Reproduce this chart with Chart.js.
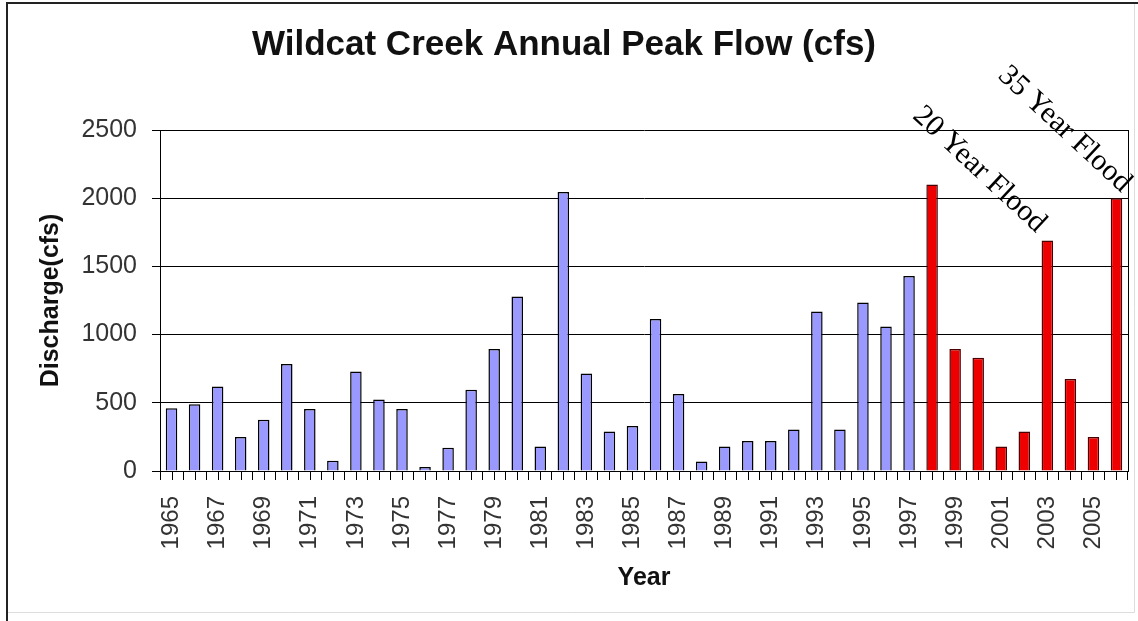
<!DOCTYPE html>
<html>
<head>
<meta charset="utf-8">
<script src="https://cdn.jsdelivr.net/npm/chart.js@4.4.0/dist/chart.umd.min.js"></script>
<style>
  html, body { margin:0; padding:0; background:#fff; }
  canvas { display:block; }
</style>
</head>
<body>
<canvas id="c" width="1138" height="621"></canvas>
<script>
// annual peak discharge, cfs
const years = [1965,1966,1967,1968,1969,1970,1971,1972,1973,1974,1975,1976,1977,1978,1979,1980,1981,
  1982,1983,1984,1985,1986,1987,1988,1989,1990,1991,1992,1993,1994,1995,1996,1997,
  1998,1999,2000,2001,2002,2003,2004,2005,2006];
const peakFlow = [460,490,620,250,375,785,455,75,730,525,455,30,170,595,895,1280,180,
  2045,715,290,330,1115,565,70,180,220,220,305,1170,305,1235,1060,1430,
  2100,895,830,180,290,1690,675,250,2000];
const yTicks = [0,500,1000,1500,2000,2500];
const recentFrom = 1998;            // bars from this year on are red
const floodYears = [2003, 2006];
const floodLabels = ['20 Year Flood', '35 Year Flood'];

const SANS = '"Liberation Sans", Arial, sans-serif';
const SERIF = '"Liberation Serif", "Times New Roman", serif';

const extras = {
  id:'extras',
  afterDraw(chart){
    const {ctx, chartArea:a, scales:{x, y}} = chart;
    ctx.save();
    // outer frame (left + top only are visible)
    ctx.strokeStyle = '#222'; ctx.lineWidth = 2;
    ctx.beginPath(); ctx.moveTo(7, 621); ctx.lineTo(7, 3); ctx.lineTo(1138, 3); ctx.stroke();
    ctx.strokeStyle = '#ddd'; ctx.lineWidth = 1;
    ctx.beginPath(); ctx.moveTo(8, 612.5); ctx.lineTo(1134.5, 612.5); ctx.lineTo(1134.5, 4); ctx.stroke();
    // right edge of plot area
    ctx.strokeStyle = '#000'; ctx.lineWidth = 1;
    ctx.beginPath(); ctx.moveTo(Math.round(a.right)+0.5, a.top); ctx.lineTo(Math.round(a.right)+0.5, a.bottom); ctx.stroke();
    // tick marks at bar centres too
    ctx.beginPath();
    years.forEach((yr, i) => {
      const px = Math.round(x.getPixelForValue(i)) + 0.5;
      ctx.moveTo(px, a.bottom); ctx.lineTo(px, a.bottom + 9);
    });
    ctx.stroke();
    // flood notes
    ctx.fillStyle = '#000';
    ctx.font = '30px ' + SERIF;
    ctx.textAlign = 'right';
    ctx.textBaseline = 'alphabetic';
    const offs = [[-11,-7],[5,-5]];
    floodYears.forEach((yr, k) => {
      const i = years.indexOf(yr);
      const px = x.getPixelForValue(i) + offs[k][0];
      const py = y.getPixelForValue(peakFlow[i]) + offs[k][1];
      ctx.save();
      ctx.translate(px, py);
      ctx.rotate(43 * Math.PI / 180);
      ctx.fillText(floodLabels[k], 0, 0);
      ctx.restore();
    });
    ctx.restore();
  }
};

new Chart(document.getElementById('c'), {
  type:'bar',
  data:{
    labels: years.map(String),
    datasets:[{
      data: peakFlow,
      backgroundColor: c => years[c.dataIndex] >= recentFrom ? '#ee0000' : '#9999ff',
      borderColor: c => years[c.dataIndex] >= recentFrom ? '#4a0000' : '#000',
      borderWidth: 1.5,
      borderSkipped: 'bottom',
      barPercentage: 0.5,
      categoryPercentage: 1
    }]
  },
  options:{
    responsive:false,
    animation:false,
    layout:{ padding:{ left:0, right:10, top:0, bottom:0 } },
    plugins:{
      legend:{ display:false },
      tooltip:{ enabled:false },
      title:{ display:true, text:'Wildcat Creek Annual Peak Flow (cfs)', color:'#111',
        font:{ family:SANS, size:35, weight:'bold' }, padding:{ top:24, bottom:64 } }
    },
    scales:{
      x:{
        afterFit: s => { s.height = 150; s.paddingLeft = 0; s.paddingRight = 0; },
        grid:{ offset:true, drawOnChartArea:false, color:'#000', tickLength:9 },
        border:{ color:'#000' },
        ticks:{ autoSkip:false, minRotation:90, maxRotation:90, padding:16, color:'#333',
          font:{ family:SANS, size:24 },
          callback:(v, i) => i % 2 === 0 ? String(years[i]) : '' },
        title:{ display:true, text:'Year', color:'#111', font:{ family:SANS, size:25, weight:'bold' },
          padding:{ top:0, bottom:28 } }
      },
      y:{
        min:0, max:2500,
        afterFit: s => { s.width = 160; s.paddingTop = 0; s.paddingBottom = 0; },
        afterBuildTicks: s => { s.ticks = yTicks.map(v => ({ value:v })); },
        grid:{ color:'#000', tickLength:8 },
        border:{ color:'#000' },
        ticks:{ padding:15, color:'#333', font:{ family:SANS, size:25 }, callback: v => String(v) },
        title:{ display:true, text:'Discharge(cfs)', color:'#111', font:{ family:SANS, size:25, weight:'bold' },
          padding:{ top:36, bottom:0 } }
      }
    }
  },
  plugins:[extras]
});
</script>
</body>
</html>
